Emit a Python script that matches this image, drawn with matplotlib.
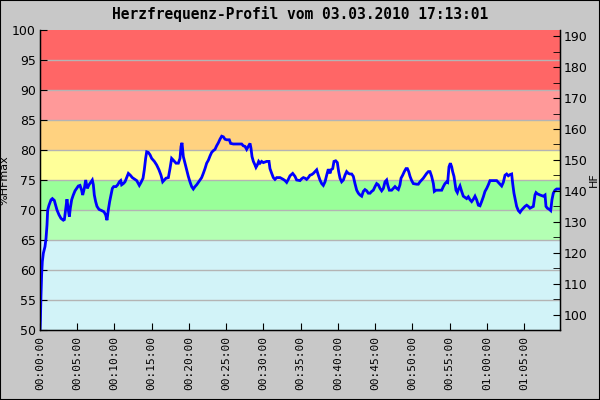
import matplotlib
matplotlib.use("Agg")
import matplotlib.pyplot as plt
from matplotlib.ticker import FixedLocator, FuncFormatter

# time in minutes, heart-rate in %HFmax
t_min = [0.0, 0.05, 0.13, 0.22, 0.31, 0.45, 0.67, 0.81, 0.94, 1.03, 1.21, 1.48, 1.66, 1.92,
         2.10, 2.28, 2.55, 2.82, 3.13, 3.27, 3.45, 3.62, 3.80, 3.94, 4.07, 4.25, 4.47,
         4.70, 4.92, 5.14, 5.37, 5.59, 5.73, 5.95, 6.13, 6.35, 6.58, 6.85, 7.02, 7.16,
         7.29, 7.47, 7.65, 7.92, 8.28, 8.59, 8.81, 8.99, 9.17, 9.35, 9.53, 9.71, 9.89,
         10.20, 10.43, 10.65, 10.83, 10.96, 11.19, 11.41, 11.63, 11.86, 12.12, 12.39,
         12.75, 12.98, 13.20, 13.33, 13.56, 13.83, 14.00, 14.18, 14.32, 14.54, 14.77,
         14.99, 15.35, 15.66, 15.97, 16.24, 16.47, 16.69, 16.91, 17.23, 17.45, 17.67,
         17.90, 18.26, 18.57, 18.79, 18.93, 19.06, 19.15, 19.24, 19.46, 19.69, 19.91,
         20.13, 20.36, 20.58, 20.81, 21.03, 21.25, 21.48, 21.70, 21.92, 22.15, 22.37,
         22.60, 22.82, 23.04, 23.27, 23.49, 23.71, 23.94, 24.16, 24.39, 24.61, 24.83,
         25.06, 25.41, 25.59, 25.95, 26.40, 26.85, 27.07, 27.29, 27.52, 27.74, 27.96,
         28.19, 28.32, 28.46, 28.64, 28.86, 28.99, 29.17, 29.35, 29.53, 29.75, 29.98,
         30.43, 30.74, 30.87, 31.10, 31.32, 31.54, 31.77, 32.22, 32.66, 32.89, 33.11,
         33.33, 33.56, 33.92, 34.23, 34.45, 34.90, 35.12, 35.35, 35.57, 35.79, 36.02,
         36.24, 36.47, 36.69, 36.91, 37.14, 37.36, 37.58, 37.81, 38.03, 38.26, 38.48,
         38.70, 38.93, 39.06, 39.29, 39.46, 39.69, 39.91, 40.09, 40.27, 40.49, 40.72,
         40.94, 41.16, 41.39, 41.61, 41.84, 42.06, 42.28, 42.51, 42.73, 42.95, 43.18,
         43.40, 43.62, 43.85, 44.07, 44.30, 44.52, 44.74, 44.97, 45.19, 45.41, 45.64,
         45.86, 46.09, 46.31, 46.53, 46.67, 46.89, 47.20, 47.43, 47.65, 47.88, 48.10,
         48.32, 48.46, 48.68, 48.90, 49.13, 49.31, 49.49, 49.67, 49.89, 50.11, 50.56,
         50.78, 51.01, 51.23, 51.45, 51.68, 51.90, 52.13, 52.35, 52.57, 52.80, 52.93,
         53.15, 53.47, 53.92, 54.14, 54.36, 54.59, 54.72, 54.90, 55.08, 55.26, 55.39,
         55.57, 55.71, 55.84, 56.02, 56.15, 56.38, 56.60, 56.82, 57.05, 57.27, 57.49,
         57.72, 57.94, 58.17, 58.39, 58.61, 58.84, 59.06, 59.28, 59.51, 59.73, 59.96,
         60.18, 60.40, 60.85, 61.30, 61.52, 61.75, 61.97, 62.19, 62.42, 62.64, 62.86,
         63.09, 63.31, 63.45, 63.62, 63.80, 63.98, 64.21, 64.43, 64.65, 64.88, 65.10,
         65.33, 65.55, 65.77, 66.22, 66.44, 66.58, 66.76, 67.12, 67.56, 67.79, 67.92,
         68.10, 68.37, 68.55, 68.72, 68.90, 69.13, 69.35, 69.75]
hf_pct = [50.0, 51.5, 55.6, 59.2, 61.4, 62.8, 63.9, 65.3, 67.5, 70.0, 70.8, 71.7, 71.9, 71.6,
          70.8, 70.0, 69.2, 68.6, 68.3, 68.4, 70.1, 71.8, 70.0, 68.9, 70.3, 71.7, 72.5,
          73.2, 73.6, 74.0, 74.1, 73.3, 72.5, 73.6, 75.0, 73.6, 74.2, 74.7, 75.0, 74.2,
          72.5, 71.4, 70.6, 70.1, 69.9, 69.7, 69.2, 68.3, 70.0, 71.4, 72.5, 73.6, 73.9,
          73.9, 74.2, 74.7, 74.9, 74.2, 74.4, 74.7, 75.4, 76.1, 75.8, 75.4,
          75.1, 74.9, 74.4, 74.1, 74.6, 75.3, 76.7, 78.6, 79.7, 79.6, 79.2,
          78.6, 78.1, 77.5, 76.7, 75.8, 74.7, 75.0, 75.3, 75.4, 76.9, 78.6,
          78.3, 77.8, 77.8, 78.6, 80.6, 81.2, 80.0, 78.9, 77.8, 76.7, 75.6,
          74.7, 73.9, 73.5, 73.9, 74.2, 74.6, 75.0, 75.4, 76.1, 76.9, 77.8,
          78.3, 79.0, 79.6, 79.9, 80.1, 80.7, 81.2, 81.8, 82.3, 82.2, 81.8,
          81.7, 81.7, 81.1, 81.0, 81.0, 81.0, 81.0, 80.7, 80.6, 80.1, 80.6,
          81.1, 80.3, 78.9, 78.1, 77.5, 77.1, 77.5, 78.1, 77.8, 78.1, 77.9,
          78.1, 78.1, 76.9, 76.1, 75.4, 75.1, 75.4, 75.4, 75.1, 74.9, 74.6,
          75.1, 75.7, 76.1, 75.6, 75.0, 74.9, 75.2, 75.4, 75.3, 75.1, 75.4,
          75.8, 75.9, 76.1, 76.4, 76.7, 75.8, 75.0, 74.4, 74.1, 74.7, 75.8,
          76.8, 76.1, 76.7, 76.9, 78.1, 78.2, 77.9, 76.4, 75.3, 74.7, 75.0,
          75.8, 76.4, 76.1, 76.0, 76.0, 75.6, 74.4, 73.3, 72.8, 72.5, 72.3,
          73.1, 73.4, 73.2, 72.8, 72.8, 73.1, 73.3, 73.9, 74.4, 74.2, 73.6,
          73.2, 73.6, 74.7, 75.0, 74.2, 73.3, 73.3, 73.6, 73.9, 73.6, 73.4,
          74.2, 75.3, 75.8, 76.4, 76.9, 76.9, 76.4, 75.6, 74.9, 74.4, 74.3,
          74.3, 74.7, 75.0, 75.3, 75.7, 76.1, 76.4, 76.4, 75.6, 74.4, 73.1,
          73.3, 73.3, 73.3, 73.9, 74.4, 74.7, 74.6, 77.2, 77.8, 77.2, 76.4,
          75.6, 74.4, 73.3, 72.9, 73.4, 74.0, 73.1, 72.3, 72.1, 71.9, 72.2,
          71.7, 71.4, 71.8, 72.3, 71.7, 70.8, 70.7, 71.4, 72.2, 73.1, 73.6,
          74.2, 74.9, 74.9, 74.9, 74.6, 74.3, 74.0, 74.6, 75.8, 76.0, 75.7,
          75.9, 76.0, 74.4, 72.8, 71.7, 70.6, 69.9, 69.6, 70.0, 70.3, 70.6,
          70.8, 70.6, 70.3, 70.6, 72.5, 72.9, 72.7, 72.5, 72.3, 72.5, 70.6,
          70.3, 70.1, 69.9, 71.7, 72.8, 73.3, 73.5, 73.5]

title = "Herzfrequenz-Profil vom 03.03.2010 17:13:01"
hf_max = 192
band_edges = [50, 65, 70, 75, 80, 85, 90, 100]
band_colors = ["#D2F3F8", "#B3FFB3", "#99FF99", "#FFFF99", "#FFD280", "#FF9999", "#FF6666"]
x_ticks_min = list(range(0, 70, 5))
x_max_min = 69.8
hf_ticks = list(range(100, 200, 10))

BG = "#C8C8C8"
mono = ["DejaVu Sans Mono"]

fig = plt.figure(figsize=(6, 4), dpi=100, facecolor=BG)
fig.patches.append(plt.Rectangle((0, 0), 1, 1, transform=fig.transFigure,
                                 fill=False, edgecolor="black", linewidth=1.5, zorder=10))
ax = fig.add_axes([40/600, 70/400, 520/600, 300/400])

for lo, hi, c in zip(band_edges[:-1], band_edges[1:], band_colors):
    ax.axhspan(lo, hi, color=c, linewidth=0, zorder=0)
for y in range(55, 100, 5):
    ax.axhline(y, color="#B4B4B4", linewidth=1, zorder=1)

ax.plot(t_min, hf_pct, color="#0000FF", linewidth=2, zorder=3, solid_joinstyle="miter")

ax.set_xlim(0, x_max_min)
ax.set_ylim(50, 100)
ax.set_yticks(range(50, 101, 5))
ax.xaxis.set_major_locator(FixedLocator(x_ticks_min))
ax.xaxis.set_major_formatter(FuncFormatter(
    lambda v, p: "%02d:%02d:%02d" % (int(v) // 60, int(v) % 60, 0)))
ax.tick_params(axis="x", direction="in", length=5, rotation=90, labelsize=8, pad=4, color="black")
ax.tick_params(axis="y", direction="in", length=5, labelsize=9, pad=3)
for lab in ax.get_xticklabels():
    lab.set_family(mono)
ax.spines["top"].set_visible(False)
for s in ["left", "bottom", "right"]:
    ax.spines[s].set_linewidth(1)
    ax.spines[s].set_color("black")
ax.set_ylabel("%HFmax", fontsize=8)
ax.yaxis.set_label_coords(-0.058, 0.5)

ax2 = ax.twinx()
ax2.set_ylim(50 * hf_max / 100, 100 * hf_max / 100)
ax2.set_yticks(hf_ticks)
ax2.set_yticks(list(range(95, 195, 5)), minor=True)
ax2.tick_params(axis="y", which="both", direction="in", length=5, labelsize=9, pad=3)
ax2.spines["top"].set_visible(False)
ax2.set_ylabel("HF", fontsize=8, rotation=90)
ax2.yaxis.set_label_coords(1.056, 0.5)

fig.text(0.5, 0.965, title, ha="center", va="center", fontsize=10.5,
         fontweight="bold", family=mono)

fig.savefig("out.png", dpi=100, facecolor=BG)
